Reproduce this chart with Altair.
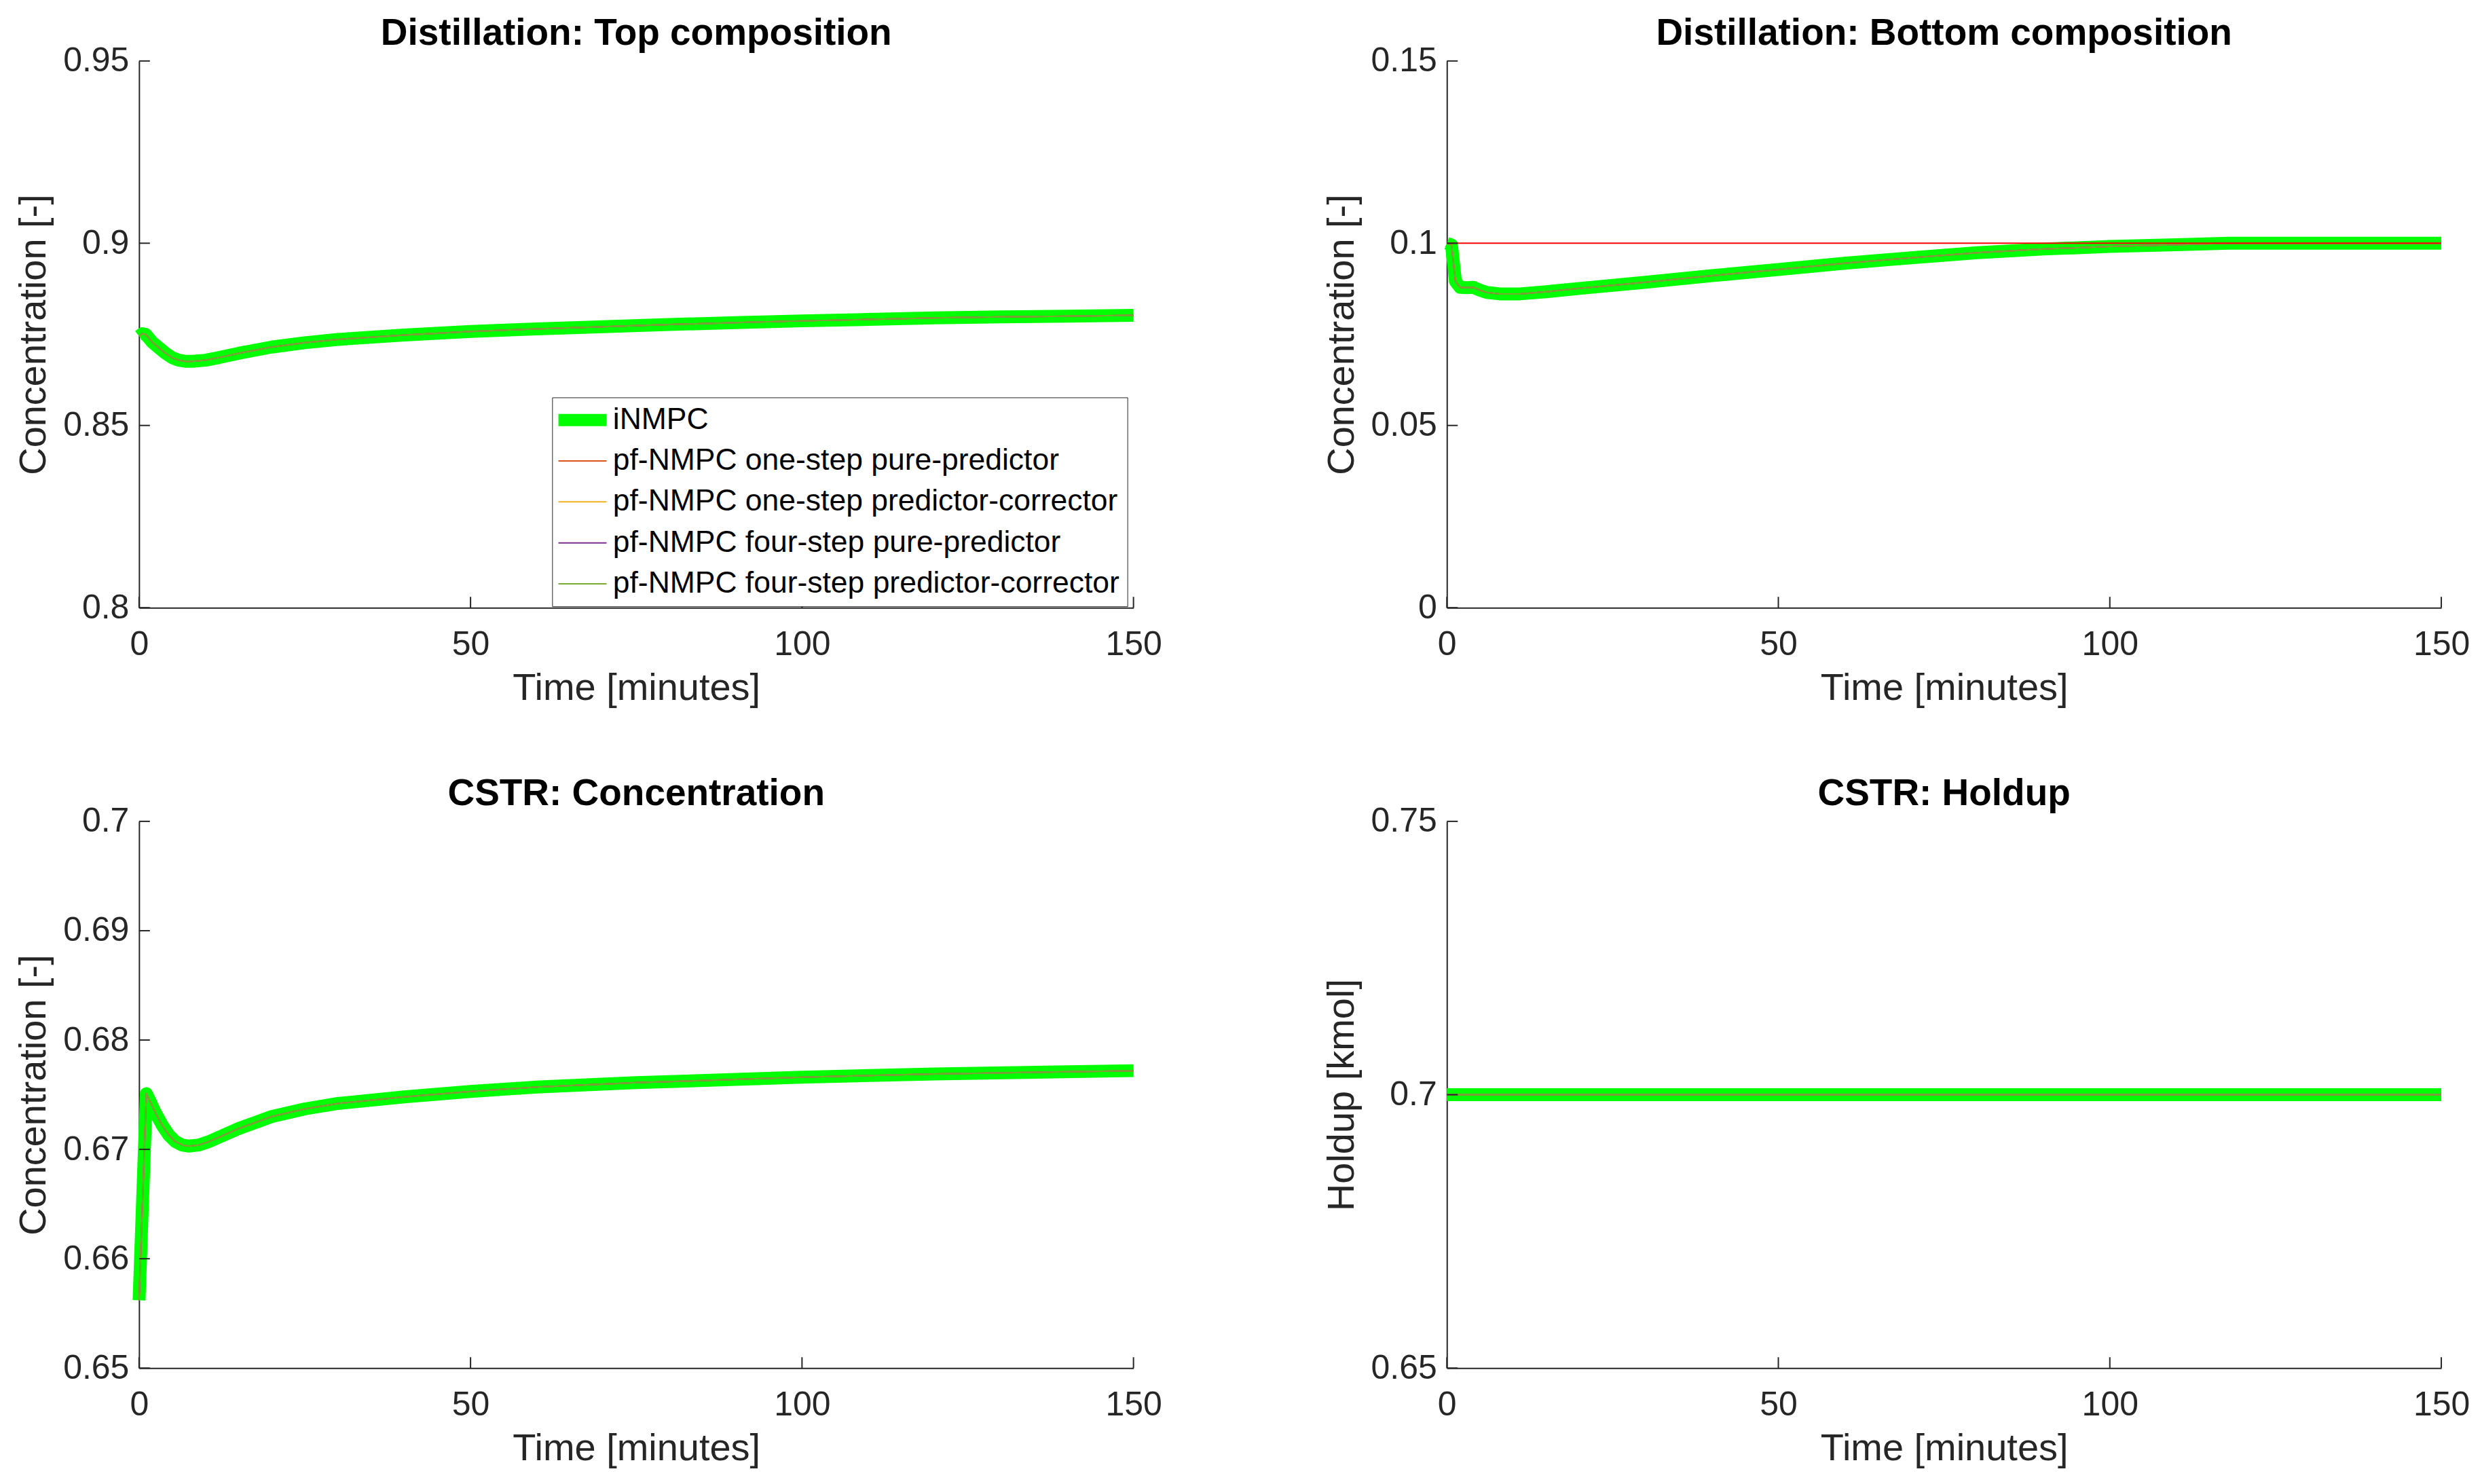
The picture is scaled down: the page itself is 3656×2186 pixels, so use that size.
import altair as alt
import pandas as pd

SERIES = [
    "iNMPC",
    "pf-NMPC one-step pure-predictor",
    "pf-NMPC one-step predictor-corrector",
    "pf-NMPC four-step pure-predictor",
    "pf-NMPC four-step predictor-corrector",
]
COLORS = ["#00FF00", "#D95319", "#EDB120", "#7E2F8E", "#77AC30"]
WIDTHS = [19, 2, 2, 2, 2]

X_TICKS = [0, 50, 100, 150]

# Distillation: top composition
TOP_T = [0, 0.5, 1, 2, 3, 4, 5, 6, 7, 8, 10, 12, 15, 20, 25, 30, 40, 50, 60, 70, 80, 90, 100, 110, 120, 130, 140, 150]
TOP_V = [0.8745, 0.8752, 0.8750, 0.8728, 0.8713, 0.8698, 0.8686, 0.8679, 0.8676, 0.8676, 0.8679, 0.8686,
         0.8698, 0.8715, 0.8727, 0.8736, 0.8748, 0.8758, 0.8765, 0.8771, 0.8777, 0.8782, 0.8787, 0.8791,
         0.8795, 0.8798, 0.8800, 0.8802]

# Distillation: bottom composition
BOT_T = [0, 0.7, 1.3, 2, 3, 4, 5, 6, 8, 11, 15, 20, 30, 40, 50, 60, 70, 80, 90, 100, 110, 118, 130, 150]
BOT_V = [0.1000, 0.0995, 0.0895, 0.0879, 0.0878, 0.0879, 0.0871, 0.0865, 0.0861, 0.0861, 0.0867, 0.0876,
         0.0893, 0.0911, 0.0928, 0.0945, 0.0960, 0.0974, 0.0984, 0.0991, 0.0996, 0.1000, 0.1000, 0.1000]
SP_T = [0, 150]
SP_V = [0.1, 0.1]

# CSTR: concentration
CC_T = [0, 1.1, 1.5, 2.5, 3.5, 4.5, 5.5, 6.5, 7.5, 9, 10.5, 12, 15, 20, 25, 30, 40, 50, 60, 75, 90, 100, 120, 150]
CC_V = [0.6562, 0.6751, 0.6746, 0.6733, 0.6722, 0.6713, 0.6707, 0.6704, 0.6703, 0.6704, 0.6707, 0.6711,
        0.6719, 0.6730, 0.6737, 0.6742, 0.6748, 0.6753, 0.6757, 0.6761, 0.6764, 0.6766, 0.6769, 0.6772]

# CSTR: holdup
HU_T = [0, 150]
HU_V = [0.7, 0.7]

W = 1466
H = 806
FONT = "Liberation Sans"
AX = "#262626"

# legend symbols: flat bars (thick for iNMPC, thin for the others)
THICK = "M-2.84,-0.72H2.84V0.72H-2.84Z"
THIN = "M-2.84,-0.08H2.84V0.08H-2.84Z"
LEG_SHAPES = [THICK, THIN, THIN, THIN, THIN]


def make_panel(t, v, title, ytitle, ydomain, yticks, legend=False, setpoint=None):
    x = alt.X("t:Q", scale=alt.Scale(domain=[0, 150], nice=False, zero=False),
              axis=alt.Axis(title="Time [minutes]", values=X_TICKS, labelExpr="toString(datum.value)",
                            ticks=False, tickSize=0, labelPadding=29, titlePadding=12, grid=False,
                            labelFlush=False, labelOverlap=False))
    y = alt.Y("v:Q", scale=alt.Scale(domain=ydomain, nice=False, zero=False),
              axis=alt.Axis(title=ytitle, values=yticks, labelExpr="toString(datum.value)",
                            ticks=False, tickSize=0, labelPadding=15, titlePadding=14, grid=False,
                            labelFlush=False, labelOverlap=False))
    layers = []
    for i, s in enumerate(SERIES):
        df = pd.DataFrame({"t": t, "v": v, "series": s})
        layers.append(alt.Chart(df).mark_line(strokeJoin="round", strokeCap="butt").encode(
            x=x, y=y, color=alt.value(COLORS[i]), strokeWidth=alt.value(WIDTHS[i])))
    if setpoint is not None:
        sp = pd.DataFrame({"t": setpoint[0], "v": setpoint[1]})
        layers.append(alt.Chart(sp).mark_line(color="#FF0000", strokeWidth=2).encode(x=x, y=y))
    if legend:
        leg = alt.Legend(title=None, orient="none", legendX=609, legendY=496,
                         symbolSize=625, symbolStrokeWidth=0, padding=11,
                         symbolOffset=11.5, labelOffset=22.5, labelFont=FONT, labelFontSize=44.5,
                         labelColor="black", strokeColor=AX, fillColor="white",
                         rowPadding=15.4, labelLimit=2000, cornerRadius=0)
        legdf = pd.DataFrame({"t": t[:1] * len(SERIES), "v": v[:1] * len(SERIES), "series": SERIES})
        layers.append(
            alt.Chart(legdf).transform_filter("datum.t < -1000").mark_point(
                filled=True, opacity=1, size=625, strokeWidth=0).encode(
                x=x, y=y,
                color=alt.Color("series:N", scale=alt.Scale(domain=SERIES, range=COLORS), legend=leg),
                shape=alt.Shape("series:N", scale=alt.Scale(domain=SERIES, range=LEG_SHAPES), legend=leg),
            )
        )
    xt = alt.Chart(pd.DataFrame({"t": X_TICKS})).mark_rule(color=AX, strokeWidth=2).encode(
        x=x, y=alt.value(H), y2=alt.value(H - 16))
    yt = alt.Chart(pd.DataFrame({"v": yticks})).mark_rule(color=AX, strokeWidth=2).encode(
        y=y, x=alt.value(0), x2=alt.value(16))
    layers += [xt, yt]
    return alt.layer(*layers).properties(width=W, height=H, title=title)


p1 = make_panel(TOP_T, TOP_V, "Distillation: Top composition", "Concentration [-]",
                [0.8, 0.95], [0.8, 0.85, 0.9, 0.95], legend=True)
p2 = make_panel(BOT_T, BOT_V, "Distillation: Bottom composition", "Concentration [-]",
                [0, 0.15], [0, 0.05, 0.1, 0.15], setpoint=(SP_T, SP_V))
p3 = make_panel(CC_T, CC_V, "CSTR: Concentration", "Concentration [-]",
                [0.65, 0.7], [0.65, 0.66, 0.67, 0.68, 0.69, 0.7])
p4 = make_panel(HU_T, HU_V, "CSTR: Holdup", "Holdup [kmol]",
                [0.65, 0.75], [0.65, 0.7, 0.75])

chart = alt.concat(p1, p2, p3, p4, columns=2, spacing={"row": 315, "column": 462}, bounds="flush").properties(
    padding={"left": 13, "top": 13, "right": 10, "bottom": 5}
).configure_view(stroke=None).configure_axis(
    domainColor=AX, domainWidth=2, labelFont=FONT, labelFontSize=50, labelColor=AX,
    titleFont=FONT, titleFontSize=56, titleColor=AX, titleFontWeight="normal"
).configure_title(
    font=FONT, fontSize=55, fontWeight="bold", color="black", anchor="middle",
    frame="group", offset=-13, baseline="alphabetic"
)

chart.save("out.html", embed_options={"renderer": "svg", "actions": False})
